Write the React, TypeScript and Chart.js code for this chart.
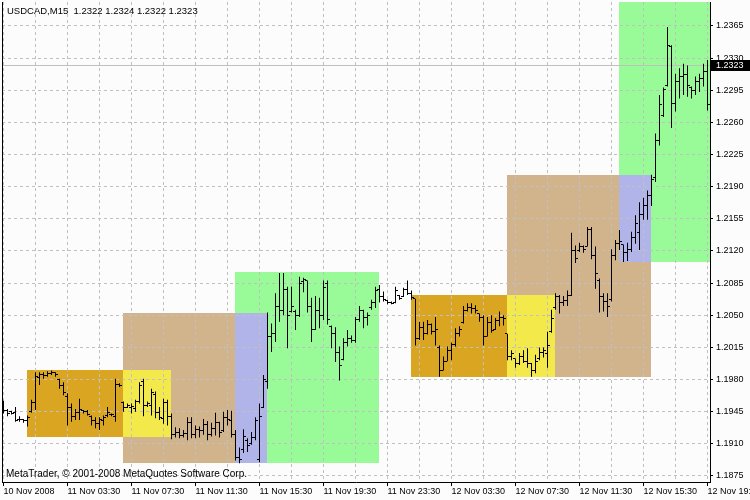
import React, { useEffect, useRef } from "react";
import { Chart, registerables } from "chart.js";

Chart.register(...registerables);

// ---------- data ----------
const TITLE_TEXT = "USDCAD,M15  1.2322 1.2324 1.2322 1.2323";
const COPYRIGHT_TEXT = "MetaTrader, \u00A9 2001-2008 MetaQuotes Software Corp.";
const LAST_PRICE = 1.2323;

const TIME_LABELS = [
  "10 Nov 2008", "11 Nov 03:30", "11 Nov 07:30", "11 Nov 11:30", "11 Nov 15:30", "11 Nov 19:30",
  "11 Nov 23:30", "12 Nov 03:30", "12 Nov 07:30", "12 Nov 11:30", "12 Nov 15:30", "12 Nov 19:30",
];

const PRICE_TICKS = [
  1.1875, 1.191, 1.1945, 1.198, 1.2015, 1.205, 1.2085, 1.212, 1.2155, 1.219, 1.2225, 1.226, 1.2295, 1.233, 1.2365,
];

const OPEN = [
  1.1952, 1.1946, 1.1945, 1.1944, 1.1936, 1.1936, 1.1935, 1.1945, 1.1955, 1.1982,
  1.1986, 1.1984, 1.1987, 1.1988, 1.198, 1.1974, 1.1962, 1.195, 1.194, 1.1944,
  1.1946, 1.1945, 1.194, 1.1935, 1.1932, 1.1935, 1.1941, 1.1942, 1.194, 1.1975,
  1.1955, 1.195, 1.195, 1.1948, 1.1956, 1.1978, 1.1952, 1.1952, 1.1964, 1.1944,
  1.1938, 1.1955, 1.194, 1.192, 1.1922, 1.1919, 1.1921, 1.1933, 1.192, 1.1926,
  1.1924, 1.1931, 1.192, 1.1927, 1.1933, 1.1925, 1.1939, 1.1935, 1.192, 1.1895,
  1.1904, 1.1914, 1.191, 1.1917, 1.1893, 1.195, 1.1978, 1.2027, 1.203, 1.206,
  1.2055, 1.2078, 1.2054, 1.2054, 1.205, 1.2087, 1.2088, 1.206, 1.2035, 1.2055,
  1.205, 1.2085, 1.2038, 1.203, 1.201, 1.2002, 1.202, 1.2025, 1.2022, 1.2045,
  1.2055, 1.2048, 1.2058, 1.2064, 1.2078, 1.207, 1.2066, 1.2064, 1.2064, 1.2071,
  1.207, 1.2078, 1.2074, 1.2068, 1.2025, 1.2037, 1.203, 1.204, 1.2032, 1.2015,
  1.199, 1.2, 1.2012, 1.2018, 1.203, 1.2042, 1.2055, 1.2058, 1.2057, 1.2052,
  1.2048, 1.2027, 1.2042, 1.2035, 1.2044, 1.2048, 1.203, 1.2005, 1.2003, 1.1997,
  1.2005, 1.2, 1.1997, 1.199, 1.2003, 1.201, 1.2008, 1.2032, 1.2058, 1.207,
  1.2064, 1.2066, 1.2072, 1.212, 1.212, 1.2125, 1.2125, 1.2143, 1.2115, 1.2088,
  1.207, 1.2065, 1.2067, 1.2115, 1.2128, 1.2127, 1.2118, 1.2122, 1.2135, 1.214,
  1.216, 1.217, 1.218, 1.22, 1.224, 1.2268, 1.23, 1.2343, 1.2281, 1.2305,
  1.231, 1.2312, 1.2298, 1.2295, 1.2305, 1.2308, 1.2315,
];

const HIGH = [
  1.1957, 1.1948, 1.1946, 1.195, 1.194, 1.1937, 1.1941, 1.1958, 1.1988, 1.1988,
  1.1988, 1.1989, 1.199, 1.1988, 1.1981, 1.1977, 1.1965, 1.1954, 1.1948, 1.1959,
  1.1947, 1.1947, 1.1941, 1.1939, 1.1939, 1.1941, 1.195, 1.1943, 1.1981, 1.1976,
  1.1956, 1.1954, 1.1954, 1.1958, 1.1977, 1.1981, 1.1956, 1.197, 1.1967, 1.195,
  1.1959, 1.1958, 1.1943, 1.1928, 1.1927, 1.1925, 1.1939, 1.1939, 1.193, 1.1929,
  1.1937, 1.1935, 1.1933, 1.1944, 1.1934, 1.1945, 1.1947, 1.1946, 1.1925, 1.1906,
  1.1926, 1.1916, 1.1923, 1.1939, 1.1954, 1.1985, 1.2053, 1.2041, 1.2074, 1.2096,
  1.2096, 1.2081, 1.2081, 1.2056, 1.2092, 1.2091, 1.2088, 1.2069, 1.2071, 1.2069,
  1.2088, 1.2088, 1.2039, 1.2037, 1.2016, 1.2025, 1.2034, 1.2028, 1.2048, 1.206,
  1.2056, 1.2053, 1.2067, 1.2081, 1.2083, 1.2076, 1.2067, 1.2065, 1.2081, 1.2072,
  1.208, 1.2088, 1.2077, 1.2068, 1.2043, 1.2043, 1.2045, 1.2041, 1.2048, 1.2017,
  1.2005, 1.2016, 1.202, 1.2036, 1.2038, 1.206, 1.2063, 1.2063, 1.2061, 1.2052,
  1.205, 1.2048, 1.205, 1.2047, 1.2054, 1.205, 1.203, 1.2012, 1.2003, 1.2009,
  1.2012, 1.2014, 1.1998, 1.2007, 1.2015, 1.2015, 1.2032, 1.2056, 1.2074, 1.2072,
  1.2071, 1.2077, 1.214, 1.2126, 1.2129, 1.2126, 1.2146, 1.2146, 1.2125, 1.209,
  1.2074, 1.2074, 1.2122, 1.2132, 1.2143, 1.2127, 1.2129, 1.2141, 1.2159, 1.2173,
  1.2178, 1.2186, 1.2203, 1.2248, 1.229, 1.2298, 1.2364, 1.2344, 1.2313, 1.2319,
  1.2324, 1.2322, 1.2299, 1.231, 1.2313, 1.2324, 1.2328,
];

const LOW = [
  1.1943, 1.194, 1.1942, 1.1934, 1.1934, 1.1933, 1.1929, 1.1944, 1.1947, 1.1974,
  1.1981, 1.1983, 1.1985, 1.1983, 1.197, 1.1963, 1.193, 1.1934, 1.1936, 1.1936,
  1.1943, 1.1941, 1.193, 1.1927, 1.1925, 1.193, 1.1939, 1.194, 1.1934, 1.1972,
  1.1945, 1.1949, 1.1943, 1.1945, 1.1954, 1.194, 1.195, 1.1941, 1.1938, 1.1936,
  1.1932, 1.193, 1.1915, 1.1917, 1.1916, 1.1917, 1.1914, 1.1916, 1.1916, 1.1917,
  1.192, 1.1914, 1.1918, 1.1919, 1.1917, 1.1923, 1.193, 1.1917, 1.1892, 1.1889,
  1.19, 1.1901, 1.1909, 1.1914, 1.189, 1.1949, 1.197, 1.201, 1.2021, 1.2043,
  1.205, 1.2014, 1.2053, 1.2034, 1.2048, 1.2075, 1.2053, 1.2021, 1.2034, 1.2036,
  1.2045, 1.204, 1.2014, 1.1999, 1.1979, 1.2001, 1.2016, 1.202, 1.202, 1.2043,
  1.2036, 1.2039, 1.2056, 1.2058, 1.2064, 1.2065, 1.2062, 1.2062, 1.2063, 1.2067,
  1.207, 1.2072, 1.2067, 1.2017, 1.2023, 1.2023, 1.2029, 1.2029, 1.2017, 1.1983,
  1.199, 1.2, 1.2001, 1.2016, 1.2027, 1.2041, 1.2054, 1.2052, 1.2052, 1.2043,
  1.2017, 1.2027, 1.2031, 1.2034, 1.2038, 1.2039, 1.2001, 1.2001, 1.1993, 1.1996,
  1.1998, 1.1993, 1.1983, 1.1987, 1.2001, 1.2004, 1.1993, 1.2031, 1.2056, 1.2052,
  1.206, 1.206, 1.2071, 1.2107, 1.2119, 1.2118, 1.2125, 1.2111, 1.2079, 1.2053,
  1.2054, 1.2048, 1.2065, 1.211, 1.2121, 1.2108, 1.2109, 1.2119, 1.2128, 1.2121,
  1.2154, 1.2154, 1.2169, 1.2195, 1.2235, 1.2266, 1.2299, 1.2254, 1.2272, 1.2286,
  1.229, 1.2288, 1.2286, 1.229, 1.2293, 1.2299, 1.2273,
];

const CLOSE = [
  1.1946, 1.1943, 1.1943, 1.1935, 1.1937, 1.1935, 1.1939, 1.1955, 1.1983, 1.1986,
  1.1984, 1.1987, 1.1988, 1.1985, 1.1974, 1.1966, 1.195, 1.194, 1.1944, 1.1947,
  1.1945, 1.1942, 1.1935, 1.1932, 1.1936, 1.1939, 1.1944, 1.1942, 1.1975, 1.1973,
  1.195, 1.1952, 1.1951, 1.1956, 1.1974, 1.1952, 1.1954, 1.1966, 1.1944, 1.1939,
  1.1955, 1.194, 1.192, 1.1922, 1.1919, 1.1921, 1.1933, 1.192, 1.1926, 1.1924,
  1.1931, 1.192, 1.1927, 1.1933, 1.1922, 1.1939, 1.1936, 1.192, 1.1895, 1.1893,
  1.1918, 1.1908, 1.1917, 1.1935, 1.194, 1.198, 1.2027, 1.203, 1.206, 1.2055,
  1.2078, 1.205, 1.206, 1.205, 1.2085, 1.2089, 1.206, 1.2035, 1.2055, 1.205,
  1.208, 1.2045, 1.203, 1.201, 1.1995, 1.202, 1.2025, 1.2022, 1.2045, 1.2055,
  1.2048, 1.205, 1.2064, 1.2077, 1.207, 1.2067, 1.2064, 1.2063, 1.2077, 1.2068,
  1.2078, 1.2074, 1.2069, 1.2025, 1.2037, 1.203, 1.204, 1.2032, 1.2035, 1.199,
  1.2, 1.2012, 1.2018, 1.203, 1.2035, 1.2055, 1.2058, 1.2057, 1.2055, 1.2048,
  1.2027, 1.2042, 1.2033, 1.2044, 1.2048, 1.2046, 1.2005, 1.2008, 1.1997, 1.2005,
  1.2, 1.1997, 1.199, 1.2, 1.201, 1.2012, 1.2017, 1.2047, 1.207, 1.2064,
  1.2066, 1.2072, 1.212, 1.2112, 1.2125, 1.2122, 1.2143, 1.2115, 1.2095, 1.207,
  1.2065, 1.206, 1.2115, 1.2128, 1.213, 1.2118, 1.2122, 1.2135, 1.215, 1.216,
  1.217, 1.218, 1.2198, 1.224, 1.228, 1.2296, 1.2344, 1.2281, 1.2305, 1.231,
  1.2312, 1.23, 1.2295, 1.2305, 1.2308, 1.2315, 1.228,
];

// session boxes (bar index range, price range, colour), in drawing order
const ZONE_START = [30, 58, 6, 30, 58, 126, 154, 102, 126, 154];
const ZONE_END = [58, 94, 30, 42, 66, 162, 180, 126, 138, 162];
const ZONE_TOP = [1.2052, 1.2097, 1.199, 1.199, 1.2052, 1.2203, 1.245, 1.2072, 1.2072, 1.2203];
const ZONE_BOTTOM = [1.1889, 1.1889, 1.1917, 1.1917, 1.1889, 1.1983, 1.2108, 1.1983, 1.1983, 1.2108];
const ZONE_COLOR = [
  "#D2B48C", "#98FB98", "#DAA520", "#F3E94B", "#B0B4E8",
  "#D2B48C", "#98FB98", "#DAA520", "#F3E94B", "#B0B4E8",
];

// ---------- layout constants ----------
const BAR_COUNT = OPEN.length;
const X_MIN = -0.375;
const X_MAX = BAR_COUNT - 0.375;
const Y_MIN = 1.1868466;
const Y_MAX = 1.2391133;
const GRID_STEP = 8;
const LABEL_STEP = 16;
const BG = "#FCFCFC";
const GRID = "#C0C0C0";
const FONT = "Liberation Sans";

const mtPlugin = {
  id: "mtPlugin",
  beforeDraw(chart: any) {
    const { ctx, chartArea: a, scales } = chart;
    const x = scales.x;
    const y = scales.y;
    ctx.save();
    ctx.fillStyle = BG;
    ctx.fillRect(0, 0, chart.width, chart.height);
    ctx.beginPath();
    ctx.rect(a.left, a.top, a.right - a.left, a.bottom - a.top);
    ctx.clip();
    for (let i = 0; i < ZONE_START.length; i++) {
      const l = Math.floor(x.getPixelForValue(ZONE_START[i]));
      const r = Math.floor(x.getPixelForValue(ZONE_END[i]));
      const t = Math.round(y.getPixelForValue(ZONE_TOP[i]));
      const b = Math.round(y.getPixelForValue(ZONE_BOTTOM[i]));
      ctx.fillStyle = ZONE_COLOR[i];
      ctx.fillRect(l, t, r - l, b - t);
    }
    ctx.restore();
  },
  beforeDatasetsDraw(chart: any) {
    const { ctx, chartArea: a, scales } = chart;
    const y = scales.y;
    ctx.save();
    const py = Math.round(y.getPixelForValue(LAST_PRICE)) + 0.5;
    ctx.strokeStyle = GRID;
    ctx.lineWidth = 1;
    ctx.beginPath();
    ctx.moveTo(a.left, py);
    ctx.lineTo(a.right, py);
    ctx.stroke();
    ctx.fillStyle = "#000";
    ctx.fillRect(a.left, a.top, 1, a.bottom - a.top);
    ctx.restore();
  },
  afterDatasetsDraw(chart: any) {
    const { ctx, chartArea: a, scales } = chart;
    const x = scales.x;
    const y = scales.y;
    ctx.save();
    ctx.beginPath();
    ctx.rect(a.left, a.top, a.right - a.left, a.bottom - a.top);
    ctx.clip();
    ctx.fillStyle = "#000";
    for (let i = 0; i < BAR_COUNT; i++) {
      const cx = Math.floor(x.getPixelForValue(i));
      const yo = Math.round(y.getPixelForValue(OPEN[i]) - 0.5);
      const yc = Math.round(y.getPixelForValue(CLOSE[i]) - 0.5);
      ctx.fillRect(cx - 2, yo, 2, 1);
      ctx.fillRect(cx + 1, yc, 2, 1);
    }
    ctx.restore();
  },
  afterDraw(chart: any) {
    const { ctx, chartArea: a, scales } = chart;
    const y = scales.y;
    ctx.save();
    ctx.fillStyle = "#000";
    ctx.textBaseline = "alphabetic";
    ctx.textAlign = "left";
    ctx.font = `9.5px "${FONT}"`;
    ctx.fillText(TITLE_TEXT, 7, 14);
    ctx.font = `10px "${FONT}"`;
    ctx.fillText(COPYRIGHT_TEXT, 6, 477);
    const py = Math.round(y.getPixelForValue(LAST_PRICE));
    ctx.fillStyle = "#000";
    ctx.fillRect(a.right + 1, py - 5, chart.width - a.right - 1, 11);
    ctx.fillStyle = "#FFF";
    ctx.font = `9px "${FONT}"`;
    ctx.textBaseline = "middle";
    ctx.fillText(LAST_PRICE.toFixed(4), a.right + 6, py + 0.5);
    ctx.restore();
  },
};

export default function App() {
  const ref = useRef<HTMLCanvasElement | null>(null);

  useEffect(() => {
    if (!ref.current) return;
    const gridBars: number[] = [];
    for (let v = 0; v < BAR_COUNT; v += GRID_STEP) gridBars.push(v);

    const chart = new Chart(ref.current, {
      type: "bar",
      data: {
        datasets: [
          {
            label: "USDCAD",
            data: OPEN.map((_, i) => ({ x: i, y: [LOW[i], HIGH[i]] })) as any,
            backgroundColor: "#000",
            borderWidth: 0,
            barThickness: 1,
            inflateAmount: 0,
          } as any,
        ],
      },
      options: {
        animation: false,
        responsive: false,
        devicePixelRatio: 1,
        events: [],
        layout: { padding: { left: 2, top: 2, right: 0, bottom: 0 } },
        plugins: { legend: { display: false }, tooltip: { enabled: false }, title: { display: false } },
        scales: {
          x: {
            type: "linear",
            min: X_MIN,
            max: X_MAX,
            bounds: "data",
            offset: false,
            afterBuildTicks: (axis: any) => {
              axis.ticks = gridBars.map((v) => ({ value: v }));
            },
            afterFit: (s: any) => {
              s.height = 18;
              s.paddingLeft = 0;
              s.paddingRight = 0;
            },
            grid: {
              offset: false,
              color: GRID,
              lineWidth: 1,
              drawTicks: true,
              tickLength: 4,
              tickColor: (c: any) => (c.tick && c.tick.value % LABEL_STEP === 0 ? "#000" : "rgba(0,0,0,0)"),
            },
            border: { display: true, color: "#000", width: 1, dash: [3, 3] },
            ticks: {
              autoSkip: false,
              maxRotation: 0,
              minRotation: 0,
              align: "start",
              padding: 0,
              color: "#000",
              font: { family: FONT, size: 9 },
              callback: (v: any) => {
                const n = Number(v);
                return n % LABEL_STEP === 0 ? TIME_LABELS[n / LABEL_STEP] ?? "" : "";
              },
            },
          } as any,
          y: {
            type: "linear",
            position: "right",
            min: Y_MIN,
            max: Y_MAX,
            bounds: "data",
            afterBuildTicks: (axis: any) => {
              axis.ticks = PRICE_TICKS.map((v) => ({ value: v }));
            },
            afterFit: (s: any) => {
              s.width = 40;
              s.paddingTop = 0;
              s.paddingBottom = 0;
            },
            grid: { color: GRID, lineWidth: 1, tickLength: 3, tickColor: "#000" },
            border: { display: true, color: "#000", width: 1, dash: [3, 3] },
            ticks: {
              padding: 3,
              color: "#000",
              font: { family: FONT, size: 9 },
              callback: (v: any) => Number(v).toFixed(4),
            },
          } as any,
        },
      },
      plugins: [mtPlugin],
    });
    return () => chart.destroy();
  }, []);

  return (
    <div style={{ position: "fixed", left: 0, top: 0, width: 750, height: 500, background: BG }}>
      <canvas ref={ref} width={750} height={500} style={{ display: "block" }} />
    </div>
  );
}
